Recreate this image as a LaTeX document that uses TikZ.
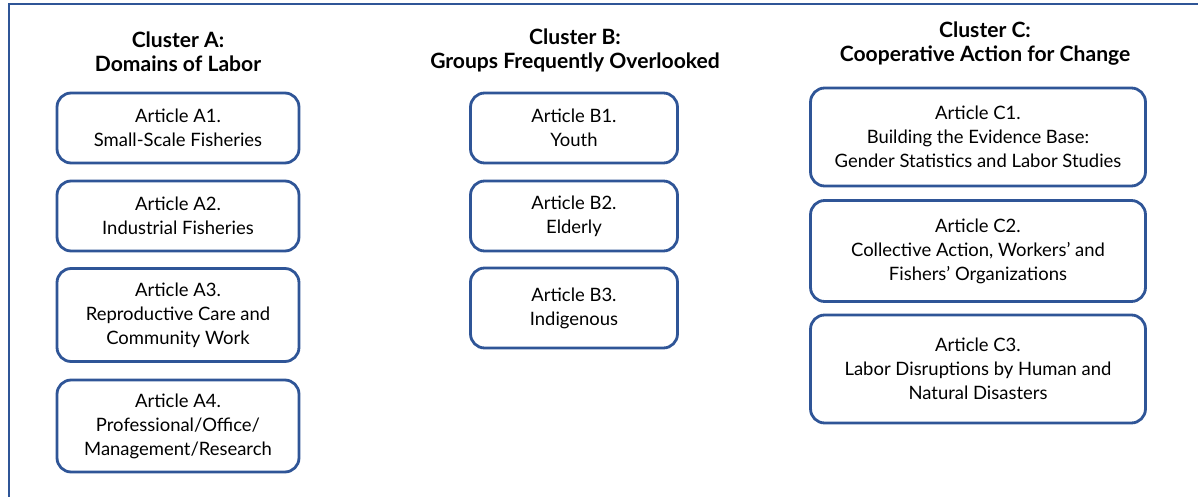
\documentclass[tikz,border=0pt]{standalone}
\usepackage{fontspec}
\setmainfont{Lato}
\usepackage{tikz}
\usetikzlibrary{positioning}

\definecolor{clusterblue}{RGB}{47,85,151}

\tikzset{
  article/.style={draw=clusterblue, line width=1.6pt, rounded corners=8pt,
    fill=white, align=center, inner sep=2pt,
    font=\fontsize{10.5}{13.6}\selectfont},
  clustertitle/.style={align=center, font=\bfseries\fontsize{12}{13.6}\selectfont},
  frameline/.style={draw=clusterblue, line width=1.2pt}
}

\begin{document}
\begin{tikzpicture}[x=0.02cm,y=-0.02cm]
\useasboundingbox (0,0) rectangle (1198,497);
\draw[frameline] (9,497) -- (9,4) -- (1198,4);

% Cluster A
\node[clustertitle] (ta) at (178,52) {Cluster A:\\Domains of Labor};
\node[article, minimum width=4.84cm, minimum height=1.4cm] (a1) at (178,128)
  {Article A1.\\Small-Scale Fisheries};
\node[article, minimum width=4.84cm, minimum height=1.4cm] (a2) at (178,216)
  {Article A2.\\Industrial Fisheries};
\node[article, minimum width=4.84cm, minimum height=1.86cm] (a3) at (178,315)
  {Article A3.\\Reproductive Care and\\Community Work};
\node[article, minimum width=4.84cm, minimum height=1.84cm] (a4) at (178,426)
  {Article A4.\\Professional/Office/\\Management/Research};

% Cluster B
\node[clustertitle] (tb) at (575,50) {Cluster B:\\Groups Frequently Overlooked};
\node[article, minimum width=4.14cm, minimum height=1.4cm] (b1) at (574,128)
  {Article B1.\\Youth};
\node[article, minimum width=4.14cm, minimum height=1.4cm] (b2) at (574,216)
  {Article B2.\\Elderly};
\node[article, minimum width=4.14cm, minimum height=1.6cm] (b3) at (574,308)
  {Article B3.\\Indigenous};

% Cluster C
\node[clustertitle] (tc) at (985,44) {Cluster C:\\Cooperative Action for Change};
\node[article, minimum width=6.7cm, minimum height=1.96cm] (c1) at (978,137)
  {Article C1.\\Building the Evidence Base:\\Gender Statistics and Labor Studies};
\node[article, minimum width=6.7cm, minimum height=2.02cm] (c2) at (978,251)
  {Article C2.\\Collective Action, Workers' and\\Fishers' Organizations};
\node[article, minimum width=6.7cm, minimum height=2.16cm] (c3) at (978,369)
  {Article C3.\\Labor Disruptions by Human and\\Natural Disasters};
\end{tikzpicture}
\end{document}
